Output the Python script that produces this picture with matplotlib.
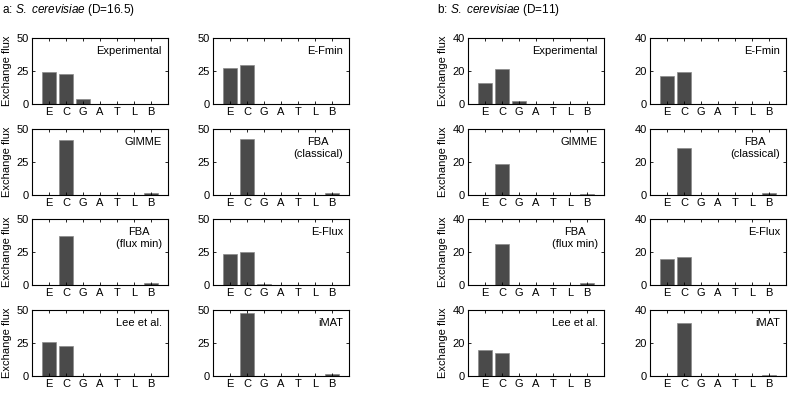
import matplotlib
matplotlib.use('Agg')
import matplotlib.pyplot as plt
import numpy as np

plt.rcParams['font.family'] = ['Liberation Sans', 'DejaVu Sans']
plt.rcParams['mathtext.fontset'] = 'custom'
plt.rcParams['mathtext.rm'] = 'Liberation Sans'
plt.rcParams['mathtext.it'] = 'Liberation Sans:italic'

# Данные
categories = ['E', 'C', 'G', 'A', 'T', 'L', 'B']
methods = ['Experimental', 'E-Fmin', 'GIMME', 'FBA\n(classical)',
           'FBA\n(flux min)', 'E-Flux', 'Lee et al.', 'iMAT']

flux_a = [
    [24, 23, 3.5, 0, 0, 0, 0],
    [27, 29.5, 0, 0, 0, 0, 0],
    [0, 42, 0, 0, 0, 0, 1.5],
    [0, 42.5, 0, 0, 0, 0, 1.5],
    [0, 37.5, 0, 0, 0, 0, 1.5],
    [23.5, 25, 1, 0, 0, 0, 0],
    [25.5, 23, 0, 0, 0, 0, 0],
    [0, 48, 0, 0, 0, 0, 1.5],
]
flux_b = [
    [13, 21, 2, 0, 0, 0, 0],
    [17, 19.5, 0, 0, 0, 0, 0],
    [0, 19, 0, 0, 0, 0, 0.5],
    [0, 28.5, 0, 0, 0, 0, 1],
    [0, 25, 0, 0, 0, 0, 1.3],
    [16, 17, 0.3, 0, 0, 0, 0],
    [16, 14, 0, 0, 0, 0, 0],
    [0, 32, 0, 0, 0, 0, 0.8],
]
yticks_a = [0, 25, 50]
yticks_b = [0, 20, 40]

W, H = 790, 396
fig = plt.figure(figsize=(W / 100, H / 100), dpi=100)

col_left = {'a': [32, 213], 'b': [468, 650]}
ax_w = 136
ax_h = 66
row_top = [38, 129, 219, 310]


def draw_panel(key, data, yticks):
    for i, vals in enumerate(data):
        r, c = divmod(i, 2)
        x0 = col_left[key][c]
        y0 = row_top[r] + ax_h
        ax = fig.add_axes([x0 / W, 1 - y0 / H, ax_w / W, ax_h / H])
        x = np.arange(1, len(categories) + 1)
        ax.bar(x, vals, width=0.8, color='#4a4a4a', edgecolor='#8a8a8a',
               linewidth=0.5)
        ax.set_xlim(0, 8)
        ax.set_ylim(yticks[0], yticks[-1])
        ax.set_xticks(x)
        ax.set_xticklabels(categories)
        ax.set_yticks(yticks)
        ax.tick_params(direction='in', top=True, right=True, length=2.5,
                       width=0.6, labelsize=8, pad=2.5)
        for s in ax.spines.values():
            s.set_linewidth(0.8)
        if c == 0:
            ax.set_ylabel('Exchange flux', fontsize=8, labelpad=3)
        ax.text(0.955, 0.88, methods[i], transform=ax.transAxes,
                ha='right', va='top', multialignment='center', fontsize=8)


draw_panel('a', flux_a, yticks_a)
draw_panel('b', flux_b, yticks_b)

fig.text(2 / W, 1 - 10 / H, r'a: $\mathit{S.\ cerevisiae}$ (D=16.5)',
         ha='left', va='center', fontsize=8.5)
fig.text(437 / W, 1 - 10 / H, r'b: $\mathit{S.\ cerevisiae}$ (D=11)',
         ha='left', va='center', fontsize=8.5)

fig.savefig('out.png', dpi=100)
